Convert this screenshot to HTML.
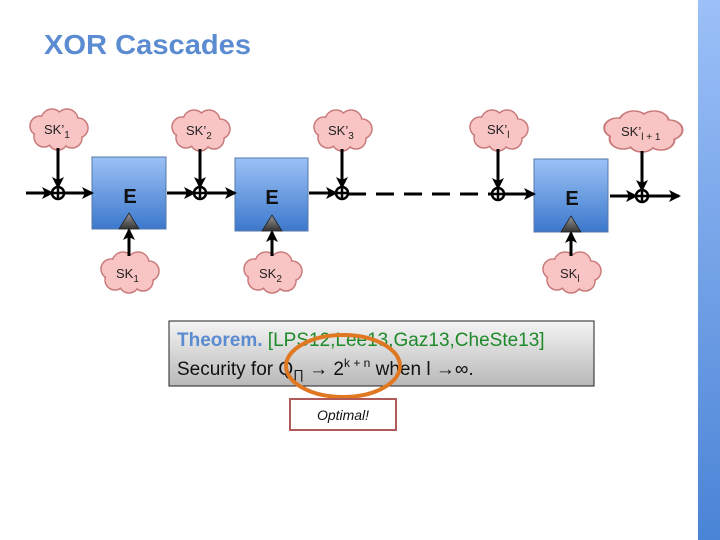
<!DOCTYPE html>
<html><head><meta charset="utf-8"><style>
body{margin:0;width:720px;height:540px;overflow:hidden;background:#fff;font-family:"Liberation Sans","DejaVu Sans",sans-serif}
</style></head><body>
<svg width="720" height="540" xmlns="http://www.w3.org/2000/svg" style="position:absolute;left:0;top:0">
<defs>
<linearGradient id="bar" x1="0" y1="0" x2="0" y2="1"><stop offset="0" stop-color="#9cc0f8"/><stop offset="1" stop-color="#4a84d6"/></linearGradient>
<linearGradient id="box" x1="0" y1="0" x2="0" y2="1"><stop offset="0" stop-color="#9cc2f6"/><stop offset="1" stop-color="#3c78cc"/></linearGradient>
<linearGradient id="tri" x1="0" y1="0" x2="0" y2="1"><stop offset="0" stop-color="#999"/><stop offset="1" stop-color="#333"/></linearGradient>
<linearGradient id="thm" x1="0" y1="0" x2="0" y2="1"><stop offset="0" stop-color="#f4f4f4"/><stop offset="1" stop-color="#b8b8b8"/></linearGradient>
<marker id="ar" markerWidth="12" markerHeight="12" refX="10" refY="6" orient="auto" markerUnits="userSpaceOnUse"><path d="M0,0 L12,6 L0,12 L3,6z" fill="#000"/></marker>
<g id="cl">
<g stroke="#c87878" stroke-width="1.5" fill="#f8c4c4">
<circle cx="-18" cy="-4" r="10"/><circle cx="-6" cy="-10" r="11"/><circle cx="9" cy="-10" r="11"/><circle cx="20" cy="-2" r="10"/><circle cx="14" cy="8" r="10"/><circle cx="0" cy="10" r="10"/><circle cx="-14" cy="7" r="10"/>
</g>
<g fill="#f8c4c4">
<circle cx="-18" cy="-4" r="9.2"/><circle cx="-6" cy="-10" r="10.2"/><circle cx="9" cy="-10" r="10.2"/><circle cx="20" cy="-2" r="9.2"/><circle cx="14" cy="8" r="9.2"/><circle cx="0" cy="10" r="9.2"/><circle cx="-14" cy="7" r="9.2"/><ellipse cx="0" cy="0" rx="22" ry="12"/>
</g>
</g>
</defs>
<rect x="698" y="0" width="22" height="540" fill="url(#bar)"/>
<text transform="translate(44,54) scale(1.04,1)" font-size="28" font-weight="bold" fill="#5b8bd0">XOR Cascades</text>

<g transform="translate(58,130)"><use href="#cl"/></g>
<g transform="translate(200,131)"><use href="#cl"/></g>
<g transform="translate(342,131)"><use href="#cl"/></g>
<g transform="translate(498,131)"><use href="#cl"/></g>
<g transform="translate(642,132) scale(1.35,1)"><use href="#cl"/></g>
<g transform="translate(129,273)"><use href="#cl"/></g>
<g transform="translate(272,273)"><use href="#cl"/></g>
<g transform="translate(571,273)"><use href="#cl"/></g>
<g font-size="13" fill="#222">
<text x="44" y="134">SK’<tspan font-size="10" dy="4">1</tspan></text>
<text x="186" y="135">SK’<tspan font-size="10" dy="4">2</tspan></text>
<text x="328" y="135">SK’<tspan font-size="10" dy="4">3</tspan></text>
<text x="487" y="134">SK’<tspan font-size="10" dy="4">l</tspan></text>
<text x="621" y="136">SK’<tspan font-size="10" dy="4">l + 1</tspan></text>
<text x="116" y="278">SK<tspan font-size="10" dy="4">1</tspan></text>
<text x="259" y="278">SK<tspan font-size="10" dy="4">2</tspan></text>
<text x="560" y="278">SK<tspan font-size="10" dy="4">l</tspan></text>
</g>

<g stroke="#5577aa" stroke-width="1" fill="url(#box)">
<rect x="92" y="157" width="74" height="72"/>
<rect x="235" y="158" width="73" height="73"/>
<rect x="534" y="159" width="74" height="73"/>
</g>
<g font-size="20" font-weight="bold" fill="#111" text-anchor="middle">
<text x="130" y="203">E</text><text x="272" y="204">E</text><text x="572" y="205">E</text>
</g>
<g fill="url(#tri)" stroke="#222" stroke-width="0.8">
<path d="M129,213 L139,229 L119,229z"/><path d="M272,215 L282,231 L262,231z"/><path d="M571,216 L581,232 L561,232z"/>
</g>

<g stroke="#000" stroke-width="3" marker-end="url(#ar)">
<line x1="58" y1="148" x2="58" y2="187"/>
<line x1="200" y1="149" x2="200" y2="187"/>
<line x1="342" y1="149" x2="342" y2="187"/>
<line x1="498" y1="149" x2="498" y2="188"/>
<line x1="642" y1="151" x2="642" y2="190"/>
<line x1="129" y1="256" x2="129" y2="230"/>
<line x1="272" y1="256" x2="272" y2="232"/>
<line x1="571" y1="256" x2="571" y2="233"/>
</g>
<g stroke="#000" stroke-width="3" marker-end="url(#ar)">
<line x1="26" y1="193" x2="52" y2="193"/>
<line x1="64" y1="193" x2="92" y2="193"/>
<line x1="167" y1="193" x2="194" y2="193"/>
<line x1="206" y1="193" x2="235" y2="193"/>
<line x1="309" y1="193" x2="336" y2="193"/>
<line x1="504" y1="194" x2="534" y2="194"/>
<line x1="610" y1="196" x2="636" y2="196"/>
<line x1="648" y1="196" x2="679" y2="196"/>
</g>
<line x1="348" y1="194" x2="492" y2="194" stroke="#000" stroke-width="3" stroke-dasharray="18,10"/>
<g fill="none" stroke="#000" stroke-width="2.5">
<circle cx="58" cy="193" r="6"/><path d="M52,193h12M58,187v12"/>
<circle cx="200" cy="193" r="6"/><path d="M194,193h12M200,187v12"/>
<circle cx="342" cy="193" r="6"/><path d="M336,193h12M342,187v12"/>
<circle cx="498" cy="194" r="6"/><path d="M492,194h12M498,188v12"/>
<circle cx="642" cy="196" r="6"/><path d="M636,196h12M642,190v12"/>
</g>

<rect x="169" y="321" width="425" height="65" fill="url(#thm)" stroke="#222" stroke-width="1"/>
<text x="177" y="346" font-size="19"><tspan fill="#5b8bd0" font-weight="bold">Theorem.</tspan><tspan fill="#1e8a2a"> [LPS12,Lee13,Gaz13,CheSte13]</tspan></text>
<text x="177" y="375" font-size="19" fill="#111">Security for Q<tspan font-size="13" dy="4">∏</tspan><tspan dy="-4"> → 2</tspan><tspan font-size="12" dy="-8">k + n</tspan><tspan dy="8"> when l →∞.</tspan></text>
<ellipse cx="343" cy="366" rx="57" ry="31" fill="none" stroke="#e07822" stroke-width="4"/>
<rect x="290" y="399" width="106" height="31" fill="#fff" stroke="#b05a5a" stroke-width="2"/>
<text x="343" y="420" font-size="14" font-style="italic" text-anchor="middle" fill="#111">Optimal!</text>
</svg>
</body></html>
